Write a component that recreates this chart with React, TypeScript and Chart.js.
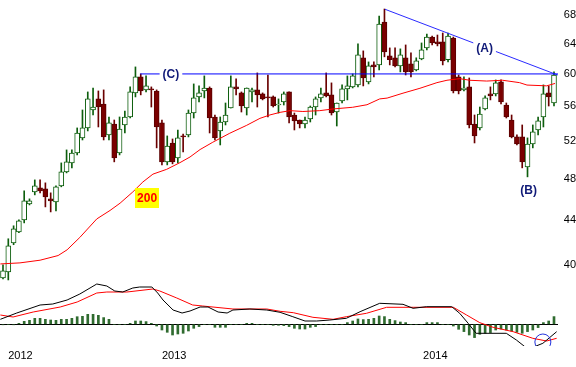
import React, { useEffect, useRef } from 'react';
import { Chart, registerables } from 'chart.js';

Chart.register(...registerables);

// ---- Weekly candles (index 0..104) ----
const opens = [
  38.91, 39.41, 41.92, 42.91, 44.01, 45.53, 46.71, 47.11, 47.01, 46.02,
  45.72, 47.31, 48.73, 49.67, 50.73, 52.38, 53.50, 55.58, 56.90, 56.29,
  52.71, 53.95, 50.73, 53.84, 54.76, 57.63, 59.62, 58.00, 58.12, 57.87,
  54.07, 49.78, 51.82, 50.20, 52.60, 52.71, 55.22, 57.14, 57.87, 58.24,
  54.76, 53.16, 54.18, 55.81, 58.37, 57.63, 55.81, 57.75, 58.00, 57.51,
  57.14, 57.14, 56.17, 56.53, 57.75, 54.99, 54.41, 53.95, 54.53, 55.93,
  57.02, 57.63, 57.39, 55.34, 56.65, 58.12, 58.37, 58.62, 62.09, 58.99,
  61.16, 61.16, 66.99, 62.35, 62.09, 61.03, 62.09, 61.29, 60.52, 61.96,
  63.41, 64.89, 64.22, 64.22, 61.83, 64.76, 59.62, 58.00, 58.37, 53.95,
  53.50, 55.69, 57.51, 57.51, 58.99, 56.17, 54.41, 52.49, 52.49, 49.25,
  51.71, 53.27, 54.76, 57.63, 56.41,
];
const closes = [
  39.49, 41.66, 43.18, 43.92, 45.82, 45.82, 47.31, 46.81, 46.22, 45.82,
  47.21, 48.73, 49.78, 50.73, 52.93, 53.50, 56.90, 55.93, 55.93, 52.49,
  54.07, 50.20, 53.38, 54.76, 57.75, 59.62, 57.87, 58.49, 58.00, 53.61,
  49.78, 51.49, 49.78, 52.38, 52.49, 55.22, 57.02, 57.63, 58.24, 54.64,
  52.38, 54.18, 54.99, 58.37, 58.12, 56.05, 58.24, 58.00, 57.39, 56.90,
  57.02, 56.05, 56.29, 57.51, 54.76, 54.30, 53.95, 54.41, 55.93, 56.90,
  57.51, 57.26, 55.22, 56.41, 58.12, 58.49, 59.75, 62.48, 59.49, 61.03,
  60.90, 66.71, 62.88, 61.83, 61.03, 62.48, 60.26, 60.26, 61.68, 63.14,
  64.89, 64.08, 63.95, 61.68, 65.03, 57.87, 57.87, 58.24, 53.84, 52.60,
  55.11, 57.02, 57.26, 58.87, 56.53, 54.76, 52.49, 51.71, 49.78, 51.71,
  53.05, 54.30, 57.51, 57.14, 59.87,
];
const highs = [
  40.00, 42.28, 43.46, 44.01, 46.81, 46.02, 47.91, 47.91, 47.61, 46.61,
  47.31, 49.67, 51.06, 51.06, 53.50, 55.58, 57.75, 58.24, 57.87, 58.00,
  54.76, 54.41, 54.76, 55.46, 58.37, 60.90, 60.00, 59.75, 58.37, 58.00,
  54.41, 52.60, 52.26, 53.27, 52.82, 55.58, 58.74, 58.49, 59.75, 58.37,
  54.99, 54.76, 56.41, 59.75, 59.37, 57.75, 58.24, 58.24, 60.13, 57.63,
  59.87, 57.26, 56.90, 57.75, 57.75, 55.22, 54.41, 54.76, 56.05, 57.14,
  58.24, 60.13, 58.87, 56.41, 58.62, 59.75, 60.00, 63.95, 63.01, 61.55,
  61.55, 67.86, 68.87, 63.41, 63.41, 63.28, 63.81, 62.74, 62.09, 64.08,
  65.31, 65.03, 65.17, 65.45, 65.45, 64.89, 59.87, 59.62, 59.49, 54.99,
  55.93, 57.26, 58.37, 59.24, 59.24, 56.41, 54.99, 52.71, 53.84, 52.38,
  53.84, 54.76, 58.62, 58.49, 60.26,
];
const lows = [
  38.83, 38.74, 41.75, 42.82, 43.73, 45.43, 46.41, 46.61, 45.24, 44.76,
  44.86, 47.21, 48.63, 49.15, 50.52, 52.15, 53.16, 54.99, 53.61, 52.15,
  52.15, 49.78, 50.52, 52.93, 54.64, 57.14, 57.39, 57.75, 55.93, 51.28,
  49.46, 49.46, 49.57, 49.67, 50.84, 52.49, 54.64, 56.53, 57.02, 52.93,
  52.15, 51.60, 53.84, 55.81, 57.39, 55.34, 54.99, 56.53, 55.93, 56.78,
  54.76, 55.93, 55.22, 56.17, 54.07, 53.27, 53.50, 53.50, 54.18, 54.99,
  56.53, 57.14, 54.99, 53.72, 56.41, 56.78, 58.24, 58.37, 58.49, 58.74,
  59.62, 60.52, 62.22, 61.16, 60.90, 60.26, 59.87, 59.62, 60.39, 61.83,
  63.14, 63.81, 63.68, 61.16, 61.55, 57.63, 57.51, 57.87, 53.50, 51.82,
  53.27, 55.58, 56.78, 57.26, 56.29, 54.64, 52.38, 51.60, 49.15, 48.22,
  51.28, 52.71, 53.61, 56.05, 56.05,
];

// ---- 200-day moving average (read at candle positions) ----
const maIdx = [-0.5, 3.2, 7.0, 10.4, 12.1, 14.5, 17.7, 20.2, 22.1, 24.5, 26.4, 28.3, 30.9, 33.4, 35.3, 37.2, 39.6, 42.8, 46.0, 48.5, 50.4, 52.3, 54.2, 56.6, 59.8, 62.3, 66.0, 68.7, 71.1, 72.5, 75.5, 78.7, 81.9, 83.8, 86.2, 88.1, 91.3, 94.3, 97.5, 98.9, 102.6, 104.2];
const maVal = [40.08, 40.17, 40.4, 40.8, 41.3, 42.4, 44.1, 44.9, 45.6, 46.7, 47.7, 48.5, 49.0, 49.7, 50.3, 51.1, 51.9, 52.9, 53.8, 54.6, 55.0, 55.3, 55.5, 55.4, 55.5, 55.7, 55.9, 56.2, 56.9, 57.0, 57.6, 58.2, 58.9, 59.2, 59.4, 59.2, 59.1, 59.2, 58.9, 58.6, 58.5, 58.8];

// ---- MACD panel ----
const macdIdx = [-0.5, 2.6, 7, 9.4, 12.1, 14.5, 17.7, 19.6, 21.1, 22.6, 24.5, 25.8, 28.1, 29.2, 30.2, 32.1, 33.8, 35.3, 37.2, 38.7, 40.6, 42.3, 43.4, 46.6, 49.8, 52.3, 54.7, 57, 59.2, 61.7, 64.8, 67.4, 71.1, 75.5, 77.4, 79.9, 84.7, 86.2, 87.8, 89.3, 95, 96.9, 98.5, 100, 101.9, 104.5];
const macdVal = [0.5, 1.13, 1.93, 2.03, 2.43, 3.03, 4.03, 3.83, 3.33, 3.23, 3.63, 3.73, 3.73, 3.13, 2.43, 1.43, 1.13, 1.33, 1.73, 1.73, 1.23, 1.13, 1.43, 1.53, 1.43, 1.2, 0.76, 0.33, 0.33, 0.43, 0.6, 1.26, 2.1, 2.0, 1.6, 1.76, 1.76, 1.1, 0.1, -0.9, -0.9, -1.57, -2.24, -2.3, -1.9, -0.74];
const signalIdx = [-0.5, 1.9, 5.7, 10.8, 14, 17.7, 19.6, 23.4, 28.3, 29.6, 32.8, 35.8, 37.7, 43.4, 49.8, 52.3, 54.8, 58.5, 62.3, 64.8, 68.6, 72.4, 77.4, 85, 87.5, 90, 92.5, 96.3, 100, 102.6, 104.5];
const signalVal = [0.93, 0.73, 1.23, 1.73, 2.23, 3.13, 3.23, 3.23, 3.53, 3.33, 2.63, 1.93, 1.83, 1.53, 1.53, 1.3, 1.16, 0.7, 0.5, 0.76, 1.1, 1.7, 1.7, 1.7, 0.93, 0.16, -0.3, -0.74, -1.4, -1.67, -1.4];
const histVal = [
  -0.05, 0, -0.05, 0.1, 0.3, 0.4, 0.6, 0.6, 0.5, 0.43,
  0.4, 0.5, 0.5, 0.6, 0.76, 0.8, 1.0, 1.0, 0.9, 0.67,
  0.5, 0, 0, 0, 0.1, 0.33, 0.33, 0.27, 0.1, -0.17,
  -0.57, -0.8, -1.07, -0.97, -0.9, -0.67, -0.4, -0.23, 0, 0,
  -0.3, -0.3, -0.3, 0, 0, 0, 0.1, 0.1, 0, 0,
  0, -0.1, -0.1, -0.13, -0.23, -0.4, -0.47, -0.47, -0.3, -0.23,
  0, 0, 0, 0, 0, 0.17, 0.33, 0.53, 0.47, 0.5,
  0.6, 0.83, 0.77, 0.5, 0.37, 0.23, 0.17, 0, 0, 0,
  0.17, 0.17, 0.17, 0, 0, -0.17, -0.5, -0.73, -1.07, -1.33,
  -1.0, -0.9, -0.83, -0.57, -0.47, -0.57, -0.67, -0.8, -0.9, -0.73,
  -0.57, -0.33, 0.17, 0.33, 0.77,
];

// ---- Axes ----
const priceTicks = [40, 44, 48, 52, 56, 60, 64, 68];
const yearTickPos = [3.3, 32.3, 81.6];
const yearLabels = ['2012', '2013', '2014'];

// ---- Trend lines & notes ----
const lineCIdx = [25.9, 104.75];
const lineCVal = [60.0, 60.0];
const lineAIdx = [72.1, 104.7];
const lineAVal = [68.83, 59.86];
const noteTexts = ['(C)', '(A)', '(B)'];
const noteIdx = [31.7, 90.9, 99.2];
const noteVal = [60.0, 63.41, 46.91];
const maTagText = '200';
const maTagIdx = 27.2;
const maTagVal = 46.11;
const circleIdx = [101.9];
const circleVal = [-1.77];

const FONT = "'Liberation Sans', Arial, Helvetica, sans-serif";

const zeroPad = (s: any) => {
  s.paddingTop = 0;
  s.paddingBottom = 0;
  s.paddingLeft = 0;
  s.paddingRight = 0;
};

const notesPlugin = {
  id: 'notes',
  afterDatasetsDraw(chart: any) {
    const { ctx, scales } = chart;
    const xs = scales.x;
    const ys = scales.y;
    ctx.save();
    ctx.font = `bold 12px ${FONT}`;
    ctx.textAlign = 'center';
    ctx.textBaseline = 'middle';
    noteTexts.forEach((t, k) => {
      const px = xs.getPixelForValue(noteIdx[k]);
      const py = ys.getPixelForValue(noteVal[k]);
      const w = ctx.measureText(t).width + 6;
      ctx.fillStyle = '#ffffff';
      ctx.fillRect(px - w / 2, py - 7, w, 14);
      ctx.fillStyle = '#101a78';
      ctx.fillText(t, px, py + 0.5);
    });
    const mx = xs.getPixelForValue(maTagIdx);
    const my = ys.getPixelForValue(maTagVal);
    ctx.fillStyle = '#ffff00';
    ctx.fillRect(Math.round(mx) - 12, Math.round(my) - 10, 24, 20);
    ctx.fillStyle = '#ff0000';
    ctx.fillText(maTagText, mx, my + 0.5);
    ctx.restore();
  },
};

export default function App() {
  const ref = useRef<HTMLCanvasElement>(null);

  useEffect(() => {
    document.body.style.margin = '0';
    Chart.defaults.font.family = FONT;
    Chart.defaults.font.size = 11;
    Chart.defaults.color = '#000000';

    const up = opens.map((o, i) => closes[i] >= o);
    const wickData = opens.map((_, i) => ({ x: i, y: [lows[i], highs[i]] }));
    const bodyData = opens.map((o, i) => ({ x: i, y: [Math.min(o, closes[i]), Math.max(o, closes[i])] }));

    const chart = new Chart(ref.current as HTMLCanvasElement, {
      type: 'bar',
      data: {
        datasets: [
          {
            type: 'bar',
            data: wickData as any,
            backgroundColor: up.map((u) => (u ? '#0d5e0d' : '#6a0000')),
            barThickness: 1,
            grouped: false,
            order: 10,
            yAxisID: 'y',
          },
          {
            type: 'bar',
            data: bodyData as any,
            backgroundColor: up.map((u) => (u ? '#ffffff' : '#7a0000')),
            borderColor: up.map((u) => (u ? '#0d5e0d' : '#5a0000')),
            borderWidth: 1,
            borderSkipped: false,
            barThickness: 5,
            grouped: false,
            order: 9,
            yAxisID: 'y',
          },
          {
            type: 'line',
            data: maIdx.map((x, k) => ({ x, y: maVal[k] })),
            borderColor: '#ff0000',
            borderWidth: 1,
            pointRadius: 0,
            order: 5,
            yAxisID: 'y',
          },
          {
            type: 'line',
            data: lineCIdx.map((x, k) => ({ x, y: lineCVal[k] })),
            borderColor: '#0000ff',
            borderWidth: 1,
            pointRadius: 0,
            order: 4,
            yAxisID: 'y',
          },
          {
            type: 'line',
            data: lineAIdx.map((x, k) => ({ x, y: lineAVal[k] })),
            borderColor: '#2a2aff',
            borderWidth: 1,
            pointRadius: 0,
            order: 4,
            yAxisID: 'y',
          },
          {
            type: 'bar',
            data: histVal.map((v, i) => ({ x: i, y: v })),
            backgroundColor: '#2f6b2f',
            barThickness: 2,
            grouped: false,
            order: 8,
            yAxisID: 'y2',
          },
          {
            type: 'line',
            data: signalIdx.map((x, k) => ({ x, y: signalVal[k] })),
            borderColor: '#ff0000',
            borderWidth: 1,
            pointRadius: 0,
            order: 3,
            yAxisID: 'y2',
          },
          {
            type: 'line',
            data: macdIdx.map((x, k) => ({ x, y: macdVal[k] })),
            borderColor: '#000000',
            borderWidth: 1,
            pointRadius: 0,
            order: 2,
            yAxisID: 'y2',
          },
          {
            type: 'line',
            data: circleIdx.map((x, k) => ({ x, y: circleVal[k] })),
            showLine: false,
            pointRadius: 8,
            pointBorderColor: '#2233dd',
            pointBackgroundColor: 'rgba(0,0,0,0)',
            pointBorderWidth: 1,
            order: 1,
            yAxisID: 'y2',
          },
        ] as any,
      },
      options: {
        animation: false,
        responsive: true,
        maintainAspectRatio: false,
        events: [],
        layout: { padding: 0, autoPadding: false },
        plugins: { legend: { display: false }, tooltip: { enabled: false } },
        scales: {
          x: {
            type: 'linear',
            min: -0.566,
            max: 104.755,
            bounds: 'data',
            offset: false,
            grid: { display: false, drawTicks: false },
            border: { display: false },
            afterBuildTicks: (s: any) => {
              s.ticks = yearTickPos.map((v) => ({ value: v }));
            },
            afterFit: (s: any) => {
              s.height = 21;
              zeroPad(s);
            },
            ticks: {
              autoSkip: false,
              maxRotation: 0,
              padding: 3,
              font: { size: 11 },
              callback: (_v: any, i: number) => yearLabels[i],
            },
          },
          y: {
            type: 'logarithmic',
            position: 'right',
            min: 33.67,
            max: 70.2,
            bounds: 'data',
            weight: 0,
            grid: { display: false, drawTicks: false },
            border: { display: false },
            afterBuildTicks: (s: any) => {
              s.ticks = priceTicks.map((v) => ({ value: v }));
            },
            afterFit: (s: any) => {
              s.width = 18;
              zeroPad(s);
            },
            ticks: {
              padding: 4,
              crossAlign: 'far',
              font: { size: 11 },
              callback: (v: any) => String(v),
            },
          },
          y2: {
            type: 'linear',
            position: 'right',
            min: -2.17,
            max: 32.43,
            bounds: 'data',
            weight: 1,
            grid: { display: true, drawTicks: false, color: '#000000', lineWidth: 1 },
            border: { display: false },
            afterBuildTicks: (s: any) => {
              s.ticks = [{ value: 0 }];
            },
            afterFit: (s: any) => {
              s.width = 0;
              zeroPad(s);
            },
            ticks: {
              padding: -9,
              font: { size: 11 },
              callback: (v: any) => String(v),
            },
          },
        },
      } as any,
      plugins: [notesPlugin],
    });
    return () => chart.destroy();
  }, []);

  return (
    <div style={{ position: 'relative', width: 576, height: 367, background: '#ffffff' }}>
      <canvas ref={ref} />
    </div>
  );
}
